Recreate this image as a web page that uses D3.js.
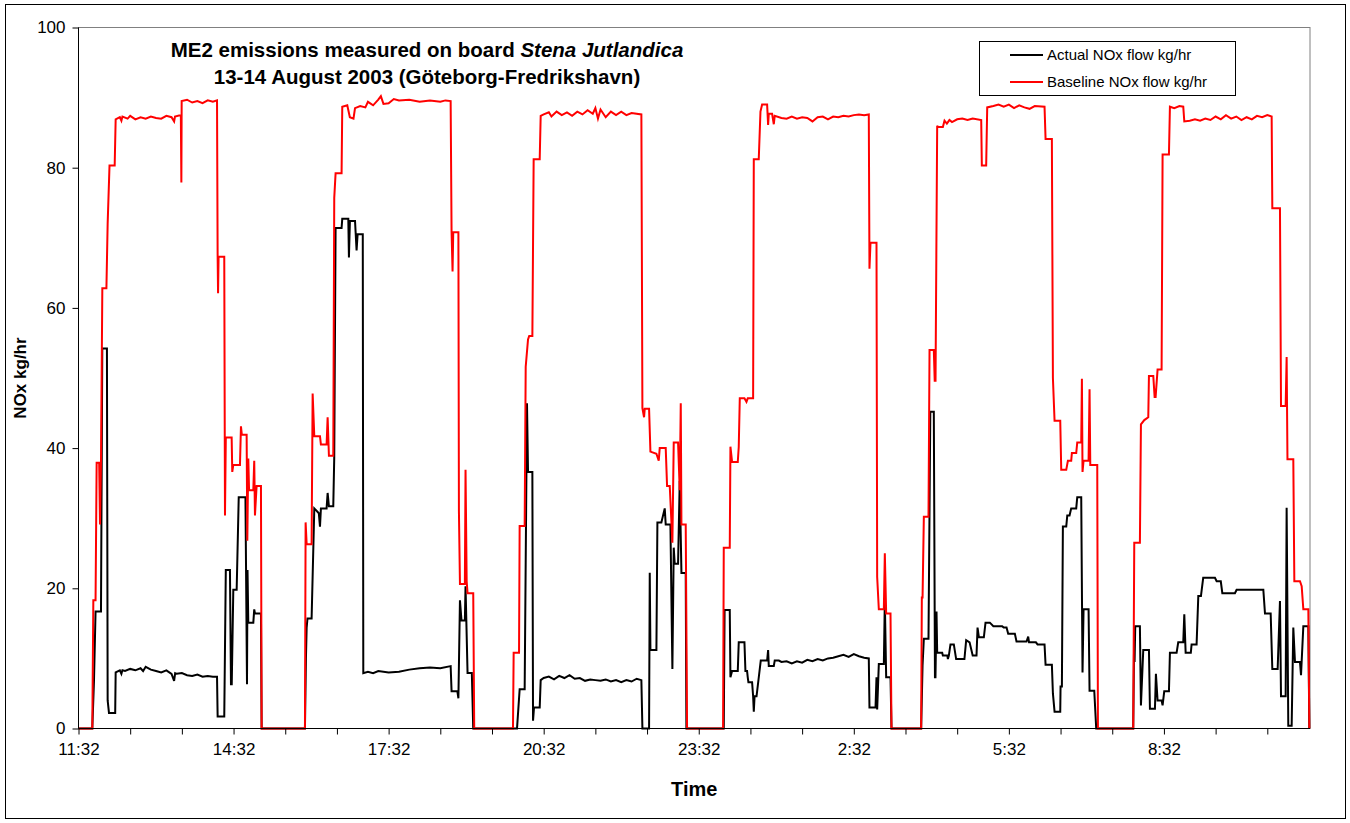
<!DOCTYPE html>
<html>
<head>
<meta charset="utf-8">
<script src="https://cdn.jsdelivr.net/npm/d3@7"></script>
<style>
  body { margin: 0; background: #fff; }
  svg { display: block; font-family: Arial, "Liberation Sans", sans-serif; }
  .axis path, .axis line { stroke: #000; }
</style>
</head>
<body>
<script>
// tid i timer fra 11:32 (13. aug)
var tickLabels = ["11:32", "14:32", "17:32", "20:32", "23:32", "2:32", "5:32", "8:32"];
var yTicks = [0, 20, 40, 60, 80, 100];
var seriesNames = ["Actual NOx flow kg/hr", "Baseline NOx flow kg/hr"];

// Baseline NOx flow kg/hr
var baseline = [
  [0,0],[0.267,0],[0.287,18.3],[0.33,18.3],[0.351,37.9],[0.40,37.9],[0.416,29.1],[0.435,37.9],[0.461,62.8],[0.54,62.8],[0.564,72],[0.60,80.3],[0.70,80.3],[0.719,86.9],[0.80,87.2],[0.83,86.7],[0.85,87.3],[0.95,87.0],[1.0,87.4],[1.1,86.9],[1.2,87.2],[1.3,87.0],[1.4,87.3],[1.5,87.1],[1.6,87.0],[1.7,87.4],[1.8,87.2],[1.85,86.6],[1.867,87.3],[1.98,87.5],[1.99,77.9],[1.996,89.5],[2.1,89.7],[2.2,89.3],[2.3,89.5],[2.4,89.2],[2.5,89.6],[2.6,89.4],[2.68,89.6],[2.692,67.3],[2.70,62.1],[2.71,67.3],[2.82,67.3],[2.834,30.4],[2.85,41.5],[2.963,41.5],[2.975,36.6],[2.995,37.6],[3.124,37.6],[3.143,43.1],[3.16,41.9],[3.253,41.9],[3.266,26.8],[3.285,38.5],[3.30,34],[3.382,34],[3.40,38.2],[3.414,30.4],[3.446,34.6],[3.53,34.6],[3.543,0],
  [4.381,0],[4.394,29.4],[4.414,26.3],[4.51,26.3],[4.53,47.8],[4.562,41.7],[4.672,41.7],[4.69,40.5],[4.80,40.5],[4.82,44.4],[4.845,38.9],[4.929,38.9],[4.948,75.7],[4.974,79.2],[5.09,79.2],[5.103,88.7],[5.2,88.9],[5.25,87.2],[5.32,87.0],[5.35,88.5],[5.45,88.8],[5.55,88.6],[5.6,89.4],[5.7,88.9],[5.8,89.7],[5.85,90.2],[5.9,89.1],[6.0,89.2],[6.1,89.8],[6.2,89.6],[6.4,89.7],[6.6,89.4],[6.8,89.6],[7.0,89.4],[7.1,89.6],[7.2,89.5],[7.218,70.8],[7.237,65.2],[7.25,70.8],[7.35,70.8],[7.36,31.0],[7.38,20.6],[7.475,20.6],[7.488,36.9],[7.51,21.0],[7.527,19.3],[7.637,19.3],[7.656,0],
  [8.406,0],[8.419,10.8],[8.523,10.8],[8.535,28.9],[8.632,28.9],[8.652,51.6],[8.697,55.5],[8.72,56],[8.781,56],[8.806,81.2],[8.923,81.2],[8.942,87.4],[9.0,87.6],[9.1,87.9],[9.15,87.3],[9.25,88],[9.35,87.5],[9.45,87.9],[9.55,87.4],[9.65,88.0],[9.75,87.6],[9.85,88.2],[9.95,87.7],[10.0,88.5],[10.05,87.0],[10.1,88.3],[10.2,87.2],[10.3,88.0],[10.4,87.5],[10.5,88.0],[10.6,87.5],[10.7,87.8],[10.89,87.6],[10.91,45.7],[10.942,44.4],[10.955,45.6],[11.039,45.6],[11.065,39.5],[11.181,39.2],[11.226,38.2],[11.245,40.0],[11.361,40.0],[11.387,34.6],[11.439,34.6],[11.490,26.5],[11.516,40.8],[11.6,40.8],[11.632,34],[11.652,46.4],[11.665,29.1],[11.748,29.1],[11.774,0],
  [12.471,0],[12.484,25.8],[12.6,25.8],[12.613,40.2],[12.645,38.0],[12.755,38.0],[12.774,40.2],[12.794,47.1],[12.884,47.1],[12.923,46.6],[12.948,47.1],[13.052,47.1],[13.065,81.2],[13.161,81.2],[13.194,88.0],[13.226,89.0],[13.323,89.0],[13.342,86.1],[13.355,87.7],[13.419,87.7],[13.452,86.2],[13.47,87.4],[13.6,87.1],[13.7,87.0],[13.8,87.3],[13.9,87.0],[14.0,87.2],[14.1,87.1],[14.2,86.6],[14.3,87.2],[14.4,87.3],[14.5,86.9],[14.6,87.3],[14.7,87.2],[14.8,87.4],[14.9,87.3],[15.0,87.5],[15.1,87.6],[15.2,87.5],[15.29,87.6],[15.303,65.6],[15.323,69.3],[15.439,69.3],[15.452,21.6],[15.484,17.0],[15.581,17.0],[15.6,25.0],[15.626,16.4],[15.71,16.4],[15.729,0],
  [16.303,0],[16.316,18.7],[16.33,18.7],[16.355,30.2],[16.445,30.2],[16.465,54.0],[16.548,54.0],[16.565,49.6],[16.581,49.6],[16.613,86.0],[16.626,85.8],[16.723,85.8],[16.755,86.7],[16.8,86.3],[16.85,86.8],[16.9,86.5],[17.0,86.9],[17.1,87.0],[17.2,86.8],[17.3,87.0],[17.465,86.8],[17.477,80.3],[17.561,80.3],[17.581,88.6],[17.7,88.8],[17.8,89.0],[17.9,88.7],[18.0,89.0],[18.1,88.5],[18.2,88.9],[18.3,88.6],[18.4,88.4],[18.5,88.8],[18.69,88.7],[18.71,84.1],[18.832,84.1],[18.852,50],[18.884,43.9],[18.994,43.9],[19.013,36.9],[19.11,36.9],[19.142,38.2],[19.206,38.2],[19.219,39.3],[19.303,39.3],[19.323,40.8],[19.4,40.8],[19.413,49.9],[19.425,36.6],[19.445,38.2],[19.542,38.2],[19.561,48.4],[19.575,37.6],[19.71,37.6],[19.723,0],
  [20.406,0],[20.426,26.5],[20.535,26.5],[20.555,43.4],[20.62,44],[20.697,44.4],[20.71,50.3],[20.794,50.3],[20.82,47.3],[20.839,47.3],[20.877,51.2],[20.955,51.2],[20.974,81.9],[21.097,81.9],[21.116,88.7],[21.2,88.5],[21.3,88.8],[21.374,88.7],[21.394,86.6],[21.5,86.7],[21.6,86.9],[21.7,86.7],[21.8,87.0],[21.9,86.8],[22.0,87.3],[22.1,86.9],[22.2,87.5],[22.3,87.0],[22.4,87.3],[22.5,86.8],[22.6,87.2],[22.7,86.9],[22.8,87.4],[22.9,87.2],[23.0,87.5],[23.084,87.3],[23.097,74.2],[23.245,74.2],[23.265,46.0],[23.355,46.0],[23.374,53],[23.39,38.4],[23.503,38.4],[23.523,21.0],[23.632,21.0],[23.665,20.3],[23.697,17.0],[23.794,17.0],[23.813,0]
];

// Actual NOx flow kg/hr
var actual = [
  [0,0],[0.267,0],[0.30,6.9],[0.33,16.7],[0.435,16.7],[0.46,54.2],[0.55,54.2],[0.564,4.0],[0.59,2.2],[0.71,2.2],[0.719,8.0],[0.8,8.3],[0.83,7.8],[0.85,8.3],[0.9,8.2],[1.0,8.5],[1.1,8.3],[1.2,8.6],[1.25,8.2],[1.3,8.8],[1.4,8.4],[1.5,8.2],[1.6,8.0],[1.7,8.3],[1.8,7.8],[1.85,6.8],[1.87,7.9],[1.9,7.8],[2.0,7.9],[2.1,7.6],[2.2,7.5],[2.3,7.7],[2.4,7.4],[2.5,7.5],[2.6,7.4],[2.68,7.4],[2.692,1.7],[2.82,1.7],[2.85,22.6],[2.93,22.6],[2.95,6.3],[2.965,6.3],[2.995,19.8],[3.06,19.8],[3.10,33.0],[3.23,33.0],[3.26,6.3],[3.27,22.6],[3.285,15.1],[3.382,15.1],[3.40,17.0],[3.414,16.4],[3.446,16.4],[3.53,16.4],[3.543,0],
  [4.381,0],[4.40,9.9],[4.414,14.4],[4.43,15.7],[4.51,15.7],[4.562,31.4],[4.65,30.7],[4.672,28.8],[4.69,31.4],[4.80,31.4],[4.82,33.6],[4.845,31.7],[4.929,31.7],[4.948,38.7],[4.974,71.4],[5.09,71.4],[5.103,72.7],[5.22,72.7],[5.232,67.2],[5.251,72.4],[5.35,72.4],[5.38,68.2],[5.40,70.5],[5.50,70.5],[5.51,7.9],[5.6,8.1],[5.7,7.9],[5.8,8.2],[6.0,8.0],[6.2,8.1],[6.4,8.4],[6.6,8.6],[6.8,8.7],[7.0,8.6],[7.2,8.9],[7.218,5.3],[7.33,5.3],[7.35,4.3],[7.38,18.3],[7.41,15.4],[7.475,15.4],[7.488,20.3],[7.527,7.9],[7.61,7.9],[7.637,0],
  [8.484,0],[8.535,5.6],[8.632,5.6],[8.677,46.4],[8.697,36.6],[8.781,36.6],[8.794,1.1],[8.813,3.0],[8.923,3.0],[8.942,6.9],[9.0,7.2],[9.1,7.4],[9.2,7.0],[9.3,7.5],[9.4,7.2],[9.5,7.6],[9.6,7.1],[9.7,7.2],[9.8,6.8],[9.9,7.0],[10.0,6.9],[10.1,6.8],[10.2,7.0],[10.3,6.7],[10.4,6.9],[10.5,6.6],[10.6,6.9],[10.7,6.7],[10.8,7.1],[10.89,6.9],[10.91,0],[11.039,0],[11.052,22.2],[11.065,11.2],[11.181,11.2],[11.2,29.4],[11.277,29.4],[11.342,31.4],[11.361,29.1],[11.452,29.1],[11.490,8.5],[11.516,25.8],[11.535,23.5],[11.6,23.5],[11.632,35.3],[11.665,22.2],[11.748,22.2],[11.761,0],
  [12.484,0],[12.50,16.9],[12.6,16.9],[12.613,7.3],[12.645,8.2],[12.755,8.2],[12.774,12.3],[12.884,12.3],[12.903,8.2],[12.935,8.2],[12.948,7.3],[12.961,6.6],[13.032,6.6],[13.052,4.6],[13.065,2.4],[13.08,4.6],[13.118,4.6],[13.2,9.7],[13.323,9.7],[13.342,11.2],[13.355,8.9],[13.452,8.9],[13.47,9.7],[13.55,9.7],[13.6,9.5],[13.7,9.6],[13.8,9.3],[13.9,9.6],[14.0,9.4],[14.1,9.8],[14.2,9.6],[14.3,9.9],[14.4,9.7],[14.5,10.0],[14.6,10.1],[14.7,10.3],[14.8,10.5],[14.9,10.2],[15.0,10.6],[15.1,10.3],[15.2,10.1],[15.29,10.0],[15.303,3.0],[15.42,3.0],[15.439,7.3],[15.452,2.7],[15.484,9.2],[15.581,9.2],[15.6,18.3],[15.626,7.3],[15.71,7.3],[15.729,0],
  [16.303,0],[16.33,9.0],[16.355,12.8],[16.445,12.8],[16.48,45.2],[16.548,45.2],[16.57,7.3],[16.58,7.3],[16.6,16.7],[16.613,10.8],[16.71,10.8],[16.723,10.4],[16.81,10.4],[16.82,9.9],[16.839,10.4],[16.87,12],[16.935,12],[16.98,9.9],[17.14,9.9],[17.174,12.6],[17.24,12.3],[17.3,10.4],[17.374,10.4],[17.394,14.4],[17.42,13],[17.516,13],[17.548,15.1],[17.632,15.1],[17.7,14.6],[17.87,14.6],[17.9,14.4],[17.955,14.4],[17.987,13.5],[18.116,13.5],[18.148,12.4],[18.342,12.4],[18.374,13.1],[18.39,12.3],[18.523,12.3],[18.555,12.0],[18.69,12.0],[18.71,9.1],[18.832,9.1],[18.852,5],[18.884,2.4],[18.994,2.4],[19.0,6.0],[19.026,6.0],[19.045,28.8],[19.11,28.8],[19.13,30.4],[19.174,30.4],[19.206,31.4],[19.303,31.4],[19.323,33.0],[19.4,33.0],[19.425,8.0],[19.445,17.0],[19.542,17.0],[19.561,5.4],[19.652,5.4],[19.69,0],
  [20.406,0],[20.426,14.6],[20.432,9.5],[20.445,14.6],[20.535,14.6],[20.555,3.3],[20.6,11.2],[20.71,11.2],[20.729,2.8],[20.826,2.8],[20.845,7.8],[20.877,4.0],[20.955,4.0],[20.974,3.3],[21.006,5.3],[21.097,5.3],[21.116,10.8],[21.245,10.8],[21.277,12.3],[21.374,12.3],[21.394,16.3],[21.42,10.8],[21.52,10.8],[21.535,12],[21.632,12],[21.665,18.9],[21.716,18.9],[21.76,21.5],[21.987,21.5],[22.02,21.0],[22.1,21.0],[22.13,19.3],[22.374,19.3],[22.406,19.8],[22.923,19.8],[22.955,16.4],[23.065,16.4],[23.097,8.5],[23.2,8.5],[23.245,18.2],[23.265,4.6],[23.355,4.6],[23.374,31.5],[23.406,0.4],[23.471,0.4],[23.503,14.4],[23.535,9.5],[23.632,9.5],[23.652,7.6],[23.697,14.6],[23.794,14.6],[23.813,0]
];

d3.select(window).on("load", init);

function init() {

    var w = 1350, h = 823;
    var pLeft = 78.5, pRight = 1310, pTop = 27.5, pBottom = 728.5;
    var font = "Arial, 'Liberation Sans', sans-serif";

    var svg = d3.select("body").append("svg")
        .attr("width", w)
        .attr("height", h);

    // ramme rundt om hele figuren
    svg.append("rect")
        .attr("x", 5.5).attr("y", 4.5)
        .attr("width", 1340).attr("height", 814)
        .attr("fill", "none").attr("stroke", "#000");

    var xScale = d3.scaleLinear().domain([0, 23.826]).range([pLeft, pRight]);
    var yScale = d3.scaleLinear().domain([0, 100]).range([pBottom, pTop]);

    // plotområde
    svg.append("rect")
        .attr("x", pLeft).attr("y", pTop)
        .attr("width", pRight - pLeft).attr("height", pBottom - pTop)
        .attr("fill", "none").attr("stroke", "#808080");

    var line = d3.line()
        .x(function(d) { return xScale(d[0]); })
        .y(function(d) { return yScale(d[1]); });

    svg.append("path")
        .datum(actual)
        .attr("d", line)
        .attr("fill", "none")
        .attr("stroke", "#000")
        .attr("stroke-width", 2);

    svg.append("path")
        .datum(baseline)
        .attr("d", line)
        .attr("fill", "none")
        .attr("stroke", "#ff0000")
        .attr("stroke-width", 2);

    var xAxis = d3.axisBottom(xScale)
        .tickValues(d3.range(0, 24))
        .tickSize(6)
        .tickPadding(8)
        .tickFormat(function(d) { return d % 3 === 0 ? tickLabels[d / 3] : ""; });

    var yAxis = d3.axisLeft(yScale)
        .tickValues(yTicks)
        .tickSize(6)
        .tickPadding(7);

    svg.append("g")
        .attr("class", "axis")
        .attr("transform", "translate(0," + pBottom + ")")
        .call(xAxis)
        .call(function(g) { g.select(".domain").attr("d", "M" + pLeft + ",0H" + pRight); })
        .selectAll("text")
        .attr("font-size", 17)
        .attr("font-family", font);

    svg.append("g")
        .attr("class", "axis")
        .attr("transform", "translate(" + pLeft + ",0)")
        .call(yAxis)
        .call(function(g) { g.select(".domain").attr("d", "M0," + pTop + "V" + pBottom); })
        .selectAll("text")
        .attr("font-size", 17)
        .attr("font-family", font);

    // titel
    var title = svg.append("text")
        .attr("x", 427).attr("y", 57)
        .attr("text-anchor", "middle")
        .attr("font-size", 20.5)
        .attr("font-weight", "bold");
    title.append("tspan").text("ME2 emissions measured on board ");
    title.append("tspan").attr("font-style", "italic").text("Stena Jutlandica");

    svg.append("text")
        .attr("x", 427).attr("y", 84)
        .attr("text-anchor", "middle")
        .attr("font-size", 20.5)
        .attr("font-weight", "bold")
        .text("13-14 August 2003 (Göteborg-Fredrikshavn)");

    // aksetitler
    svg.append("text")
        .attr("transform", "translate(26," + ((pTop + pBottom) / 2) + ") rotate(-90)")
        .attr("text-anchor", "middle")
        .attr("font-size", 17)
        .attr("font-weight", "bold")
        .text("NOx kg/hr");

    svg.append("text")
        .attr("x", (pLeft + pRight) / 2).attr("y", 796)
        .attr("text-anchor", "middle")
        .attr("font-size", 20)
        .attr("font-weight", "bold")
        .text("Time");

    // legende
    var legend = svg.append("g");
    legend.append("rect")
        .attr("x", 979.5).attr("y", 41.5)
        .attr("width", 256).attr("height", 54)
        .attr("fill", "#fff").attr("stroke", "#000");

    var legendColors = ["#000", "#ff0000"];
    seriesNames.forEach(function(name, i) {
        var ly = 55 + i * 27;
        legend.append("line")
            .attr("x1", 1010).attr("x2", 1043)
            .attr("y1", ly).attr("y2", ly)
            .attr("stroke", legendColors[i])
            .attr("stroke-width", 2);
        legend.append("text")
            .attr("x", 1047).attr("y", ly)
            .attr("dy", "0.35em")
            .attr("font-size", 15)
            .text(name);
    });
}
</script>
</body>
</html>
